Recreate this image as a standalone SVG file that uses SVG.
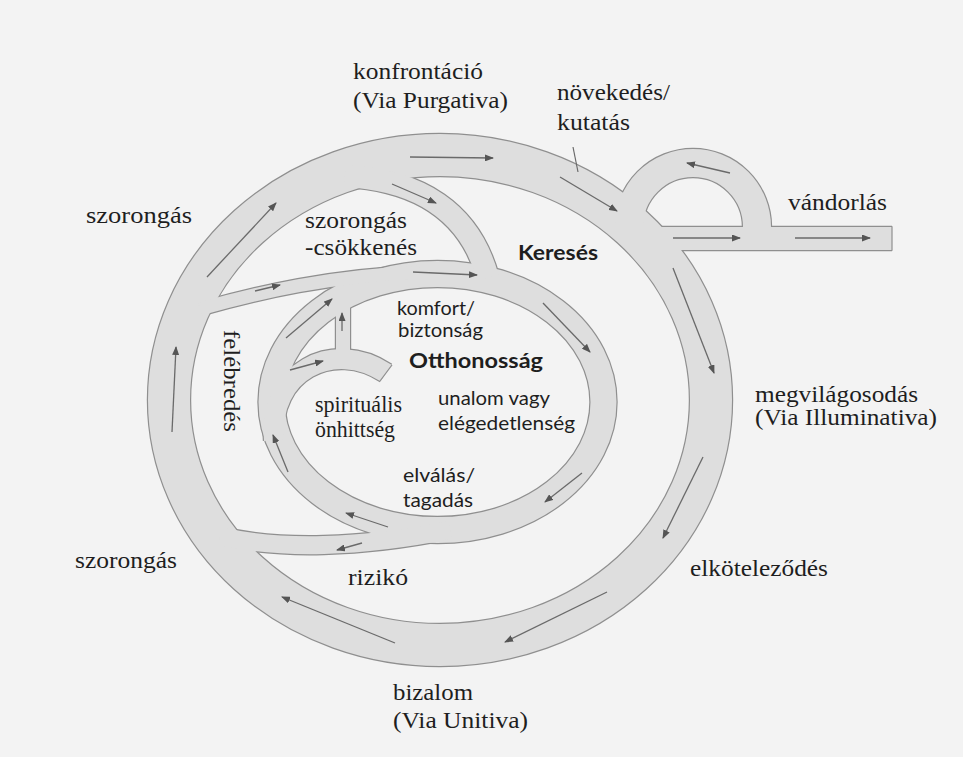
<svg xmlns="http://www.w3.org/2000/svg" width="963" height="757" viewBox="0 0 963 757">
<style>
.edge{fill:none;stroke:#8f8f8f;stroke-linejoin:round}
.band{fill:none;stroke:#dedede}
.cap{stroke:#8f8f8f;stroke-width:1.2;fill:none}
.arr{stroke:#6a6a6a;stroke-width:1.3;fill:none;marker-end:url(#ah)}
.ptr{stroke:#6a6a6a;stroke-width:1.2;fill:none}
.serif{font-family:"Liberation Serif","Times New Roman",serif;font-size:23px;fill:#1e1e1e}
.sans{font-family:Lato,"Liberation Sans",sans-serif;font-size:20px;fill:#1e1e1e}
.bold{font-weight:bold}
</style>
<defs>
<marker id="ah" markerWidth="9" markerHeight="7" refX="8" refY="3.5" orient="auto" markerUnits="userSpaceOnUse"><path d="M0,0 L9,3.5 L0,7 z" fill="#555"/></marker>
<path id="p-outer" d="M169,400 A271,245 0 1 1 711,400 A271,245 0 1 1 169,400 Z"/>
<path id="p-inner" d="M271.5,402 A166,128 0 1 1 603.5,402 A166,128 0 1 1 271.5,402 Z"/>
<path id="p-loop" d="M629,236 L629,227 A64,64 0 0 1 757,227 L757,240"/>
<path id="p-wander" d="M645,238.5 L892,238.5"/>
<path id="p-b" d="M345,176 C420,180 470,212 488,278"/>
<path id="p-c" d="M200,309 C260,292 330,276 420,272"/>
<path id="p-e" d="M274,440 C268,372 333,338 386,373"/>
<path id="p-f" d="M343,356 L343,292"/>
<path id="p-g" d="M220,536 C280,550 360,548 450,530"/>
</defs>
<rect width="963" height="757" fill="#f3f3f3"/>
<g id="tracks">
<use href="#p-outer" class="edge" stroke-width="44.4"/>
<use href="#p-inner" class="edge" stroke-width="28.4"/>
<use href="#p-loop" class="edge" stroke-width="30.4"/>
<use href="#p-wander" class="edge" stroke-width="25.4"/>
<use href="#p-b" class="edge" stroke-width="24.4"/>
<use href="#p-c" class="edge" stroke-width="15.4"/>
<use href="#p-e" class="edge" stroke-width="22.4"/>
<use href="#p-f" class="edge" stroke-width="16.4"/>
<use href="#p-g" class="edge" stroke-width="20.4"/>
<use href="#p-outer" class="band" stroke-width="42"/>
<use href="#p-inner" class="band" stroke-width="26"/>
<use href="#p-loop" class="band" stroke-width="28"/>
<use href="#p-wander" class="band" stroke-width="23"/>
<use href="#p-b" class="band" stroke-width="22"/>
<use href="#p-c" class="band" stroke-width="13"/>
<use href="#p-e" class="band" stroke-width="20"/>
<use href="#p-f" class="band" stroke-width="14"/>
<use href="#p-g" class="band" stroke-width="18"/>
<line class="cap" x1="892" y1="226.3" x2="892" y2="250.7"/>
<line class="cap" x1="392" y1="365" x2="380" y2="381"/>
</g>
<g id="connectors">
<line class="arr" x1="410" y1="157" x2="493" y2="158"/>
<line class="arr" x1="560" y1="177" x2="617" y2="211"/>
<line class="arr" x1="673" y1="268" x2="714" y2="373"/>
<line class="arr" x1="703" y1="457" x2="663" y2="538"/>
<line class="arr" x1="607" y1="592" x2="505" y2="642"/>
<line class="arr" x1="395" y1="643" x2="282" y2="597"/>
<line class="arr" x1="172" y1="432" x2="176" y2="347"/>
<line class="arr" x1="207" y1="277" x2="276" y2="203"/>
<line class="arr" x1="730" y1="173" x2="687" y2="163"/>
<line class="arr" x1="673" y1="238" x2="740" y2="238"/>
<line class="arr" x1="795" y1="238" x2="870" y2="238"/>
<line class="arr" x1="392" y1="184" x2="436" y2="203"/>
<line class="arr" x1="255" y1="291" x2="280" y2="285"/>
<line class="arr" x1="413" y1="272" x2="477" y2="275"/>
<line class="arr" x1="286" y1="338" x2="332" y2="299"/>
<line class="arr" x1="342" y1="331" x2="342" y2="313"/>
<line class="arr" x1="290" y1="370" x2="323" y2="361"/>
<line class="arr" x1="543" y1="303" x2="590" y2="352"/>
<line class="arr" x1="582" y1="473" x2="545" y2="502"/>
<line class="arr" x1="388" y1="527" x2="346" y2="513"/>
<line class="arr" x1="288" y1="472" x2="273" y2="435"/>
<line class="arr" x1="362" y1="543" x2="337" y2="550"/>
<line class="ptr" x1="573" y1="147" x2="578" y2="172"/>
</g>
<g id="label-konfrontacio"><text class="serif" x="353" y="79" textLength="130" lengthAdjust="spacingAndGlyphs">konfrontáció</text><text class="serif" x="353" y="108" textLength="155" lengthAdjust="spacingAndGlyphs">(Via Purgativa)</text></g>
<g id="label-novekedes"><text class="serif" x="557" y="100" textLength="113" lengthAdjust="spacingAndGlyphs">növekedés/</text><text class="serif" x="557" y="130" textLength="73" lengthAdjust="spacingAndGlyphs">kutatás</text></g>
<g id="label-vandorlas"><text class="serif" x="788" y="210" textLength="99" lengthAdjust="spacingAndGlyphs">vándorlás</text></g>
<g id="label-szorongas-1"><text class="serif" x="86" y="223" textLength="106" lengthAdjust="spacingAndGlyphs">szorongás</text></g>
<g id="label-szorongas-2"><text class="serif" x="75" y="568" textLength="102" lengthAdjust="spacingAndGlyphs">szorongás</text></g>
<g id="label-riziko"><text class="serif" x="348" y="585" textLength="60" lengthAdjust="spacingAndGlyphs">rizikó</text></g>
<g id="label-bizalom"><text class="serif" x="393" y="700" textLength="80" lengthAdjust="spacingAndGlyphs">bizalom</text><text class="serif" x="393" y="728" textLength="135" lengthAdjust="spacingAndGlyphs">(Via Unitiva)</text></g>
<g id="label-elkotelezodes"><text class="serif" x="690" y="576" textLength="138" lengthAdjust="spacingAndGlyphs">elköteleződés</text></g>
<g id="label-megvilagosodas"><text class="serif" x="755" y="402" textLength="163" lengthAdjust="spacingAndGlyphs">megvilágosodás</text><text class="serif" x="755" y="425" textLength="182" lengthAdjust="spacingAndGlyphs">(Via Illuminativa)</text></g>
<g id="label-felebredes"><text class="serif" transform="translate(224,330) rotate(90)" x="0" y="0" textLength="102" lengthAdjust="spacingAndGlyphs">felébredés</text></g>
<g id="label-szorongas-csokkenes"><text class="serif" x="305" y="228" textLength="102" lengthAdjust="spacingAndGlyphs">szorongás</text><text class="serif" x="305" y="255" textLength="112" lengthAdjust="spacingAndGlyphs">-csökkenés</text></g>
<g id="label-spiritualis"><text class="serif" x="315" y="412" textLength="87" lengthAdjust="spacingAndGlyphs">spirituális</text><text class="serif" x="315" y="437" textLength="80" lengthAdjust="spacingAndGlyphs">önhittség</text></g>
<g id="label-keresés"><text class="sans bold" x="518" y="260" textLength="80" lengthAdjust="spacingAndGlyphs">Keresés</text></g>
<g id="label-komfort"><text class="sans" x="397" y="315" textLength="78" lengthAdjust="spacingAndGlyphs">komfort/</text><text class="sans" x="398" y="337" textLength="85" lengthAdjust="spacingAndGlyphs">biztonság</text></g>
<g id="label-otthonossag"><text class="sans bold" x="409" y="368" textLength="134" lengthAdjust="spacingAndGlyphs">Otthonosság</text></g>
<g id="label-unalom"><text class="sans" x="438" y="405" textLength="112" lengthAdjust="spacingAndGlyphs">unalom vagy</text><text class="sans" x="438" y="430" textLength="137" lengthAdjust="spacingAndGlyphs">elégedetlenség</text></g>
<g id="label-elvalas"><text class="sans" x="403" y="482" textLength="72" lengthAdjust="spacingAndGlyphs">elválás/</text><text class="sans" x="403" y="507" textLength="70" lengthAdjust="spacingAndGlyphs">tagadás</text></g>
</svg>
